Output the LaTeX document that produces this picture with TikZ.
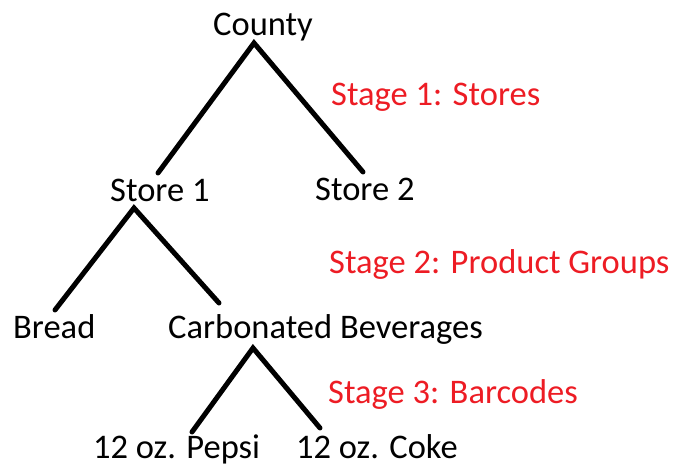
\documentclass[tikz,border=0pt]{standalone}
\usepackage{fontspec}
\setmainfont{Carlito}
\usetikzlibrary{calc}
\definecolor{stagered}{RGB}{237,28,36}
\begin{document}
\begin{tikzpicture}[x=1pt,y=-1pt,
  lbl/.style={anchor=base west,inner sep=0pt,font=\fontsize{34.5}{40}\selectfont},
  stagelbl/.style={lbl,text=stagered},
  edge/.style={draw=black,line width=5pt,line cap=round}]
\useasboundingbox (0,0) rectangle (677,466);
\node[lbl] (county) at (213,35) {County};
\node[lbl] (store1) at (110,201) {Store 1};
\node[lbl] (store2) at (315,200) {Store 2};
\node[lbl] (bread) at (13,338) {Bread};
\node[lbl] (carb) at (168,338) {Carbonated Beverages};
\node[lbl] (pepsi) at (93,458) {12 oz. Pepsi};
\node[lbl] (coke) at (296,458) {12 oz. Coke};
\node[stagelbl] (s1) at (331,105) {Stage 1: Stores};
\node[stagelbl] (s2) at (329,273) {Stage 2: Product Groups};
\node[stagelbl] (s3) at (328,403) {Stage 3: Barcodes};
% connectors
\coordinate (countyb) at ($(county.base west)+(41,8)$);
\coordinate (store1t) at ($(store1.base west)+(48,-28)$);
\coordinate (store2t) at ($(store2.base west)+(48,-28)$);
\coordinate (store1b) at ($(store1.base west)+(24,7)$);
\coordinate (breadt) at ($(bread.base west)+(42,-28)$);
\coordinate (carbt) at ($(carb.base west)+(51,-35)$);
\coordinate (carbb) at ($(carb.base west)+(85,10)$);
\coordinate (pepsit) at ($(pepsi.base west)+(99,-26)$);
\coordinate (coket) at ($(coke.base west)+(24,-30)$);
\draw[edge] (store1t) -- (countyb) -- (store2t);
\draw[edge] (breadt) -- (store1b) -- (carbt);
\draw[edge] (pepsit) -- (carbb) -- (coket);
\end{tikzpicture}
\end{document}
